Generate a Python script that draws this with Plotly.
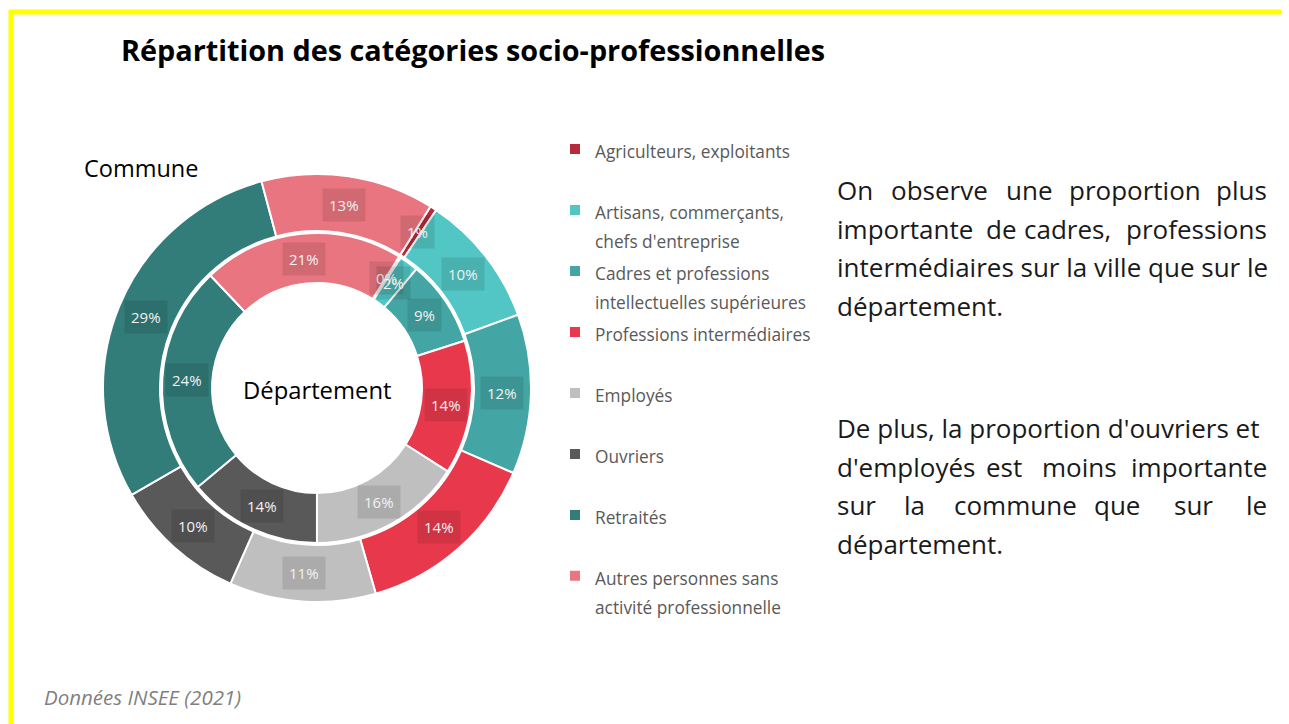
import math
import plotly.graph_objects as go

# the page adds an 8px body margin, so the figure is sized to fit the window
W, H = 1281, 716
OFF = 8

categories = [
    "Agriculteurs, exploitants",
    "Artisans, commerçants,<br>chefs d'entreprise",
    "Cadres et professions<br>intellectuelles supérieures",
    "Professions intermédiaires",
    "Employés",
    "Ouvriers",
    "Retraités",
    "Autres personnes sans<br>activité professionnelle",
]
# Commune (outer ring) and Département (inner ring), in %
commune_values = [0.5, 10, 12, 14, 11, 10, 29, 13]
departement_values = [0.2, 2, 9, 14, 16, 14, 24, 21]
colors = ["#B52A3C", "#52C6C5", "#44A6A4", "#E8394C", "#BFBFBF", "#595959", "#327C79", "#E8757F"]

title_text = "Répartition des catégories socio-professionnelles"
source_text = "Données INSEE (2021)"
outer_name = "Commune"
inner_name = "Département"

FONT = "Open Sans"
START_ANGLE = 32  # degrees clockwise from 12 o'clock

# ring geometry in screen pixels
CX, CY = 317, 388
R_OUT, R_OUT_HOLE = 214, 157
R_IN, R_IN_HOLE = 155, 105


def px(x):
    return (x - OFF) / W


def py(y):
    return 1 - (y - OFF) / H


# every legend entry takes 2 lines so the entries are evenly spaced;
# the visible text is drawn smaller than the spacing font
legend_labels = []
for c in categories:
    lines = c.split("<br>")
    lines = ["<span style='font-size:17.3px'>" + ln + "</span>" for ln in lines]
    lines += ["\u00a0"] * (2 - len(lines))
    legend_labels.append("<br>".join(lines))

fig = go.Figure()


def add_ring(values, r, r_hole, show_legend):
    fig.add_trace(go.Pie(
        values=values,
        labels=legend_labels,
        hole=r_hole / r,
        domain=dict(x=[px(CX - r), px(CX + r)], y=[py(CY + r), py(CY - r)]),
        sort=False,
        direction="clockwise",
        rotation=START_ANGLE,
        marker=dict(colors=colors, line=dict(color="white", width=2)),
        textinfo="none",
        hoverinfo="skip",
        showlegend=show_legend,
    ))


add_ring(commune_values, R_OUT, R_OUT_HOLE, True)
add_ring(departement_values, R_IN, R_IN_HOLE, False)

annotations = []


def txt(x, y, s, size, color="#000000", anchor="left", bold=False, italic=False, **kw):
    if bold:
        s = "<b>" + s + "</b>"
    if italic:
        s = "<i>" + s + "</i>"
    if anchor == "left":
        x -= 3
    elif anchor == "right":
        x += 2
    annotations.append(dict(
        x=px(x), y=py(y), xref="paper", yref="paper", text=s, showarrow=False,
        xanchor=anchor, yanchor="middle", font=dict(family=FONT, size=size, color=color), **kw
    ))


# percentage labels in translucent boxes, at the middle of each slice
def ring_labels(values, r_mid):
    total = sum(values)
    cum = 0.0
    for v in values:
        mid = START_ANGLE + (cum + v / 2) / total * 360
        cum += v
        a = math.radians(mid)
        x = CX + r_mid * math.sin(a)
        y = CY - r_mid * math.cos(a)
        txt(x, y, f"{round(v / total * 100):.0f}%", 15, color="#F2F2F2", anchor="center",
            bgcolor="rgba(0,0,0,0.10)", borderpad=6)


ring_labels(commune_values, (R_OUT + R_OUT_HOLE) / 2)
ring_labels(departement_values, (R_IN + R_IN_HOLE) / 2)

txt(122, 50, title_text, 28.8, bold=True)
txt(85, 168, outer_name, 23.5)
txt(CX, 390, inner_name, 23.8, anchor="center")
txt(45, 697, source_text, 20.5, color="#7F7F7F", italic=True)

PSIZE = 26
RIGHT = 1267
para_lines = [
    (190, [(838, "On"), (892, "observe"), (1007, "une"), (1070, "proportion"), (RIGHT, "plus")]),
    (229, [(838, "importante"), (987, "de"), (1025, "cadres,"), (RIGHT, "professions")]),
    (267, [(838, "intermédiaires sur la ville que sur le")]),
    (306, [(838, "département.")]),
    (428, [(838, "De plus, la proportion d'ouvriers et")]),
    (467, [(838, "d'employés"), (987, "est"), (1043, "moins"), (RIGHT, "importante")]),
    (505, [(838, "sur"), (905, "la"), (955, "commune"), (1095, "que"), (1175, "sur"), (RIGHT, "le")]),
    (544, [(838, "département.")]),
]
for y, words in para_lines:
    for i, (x, w) in enumerate(words):
        last = (i == len(words) - 1) and len(words) > 1
        txt(x, y, w, PSIZE, color="#1A1A1A", anchor="right" if last else "left")

shapes = [
    dict(type="line", xref="paper", yref="paper", x0=px(9), x1=1.02, y0=py(12), y1=py(12),
         line=dict(color="#FFFF00", width=5)),
    dict(type="line", xref="paper", yref="paper", x0=px(11), x1=px(11), y0=py(10), y1=-0.02,
         line=dict(color="#FFFF00", width=5)),
]

fig.update_layout(
    width=W, height=H, autosize=False,
    margin=dict(l=0, r=0, t=0, b=0),
    paper_bgcolor="white", plot_bgcolor="white",
    font=dict(family=FONT, color="#595959"),
    legend=dict(
        x=px(555), y=py(128), xanchor="left", yanchor="top",
        font=dict(family=FONT, size=22.3, color="#595959"),
        valign="top", bgcolor="rgba(0,0,0,0)", traceorder="normal",
    ),
    annotations=annotations,
    shapes=shapes,
)

fig.write_html("out.html")
